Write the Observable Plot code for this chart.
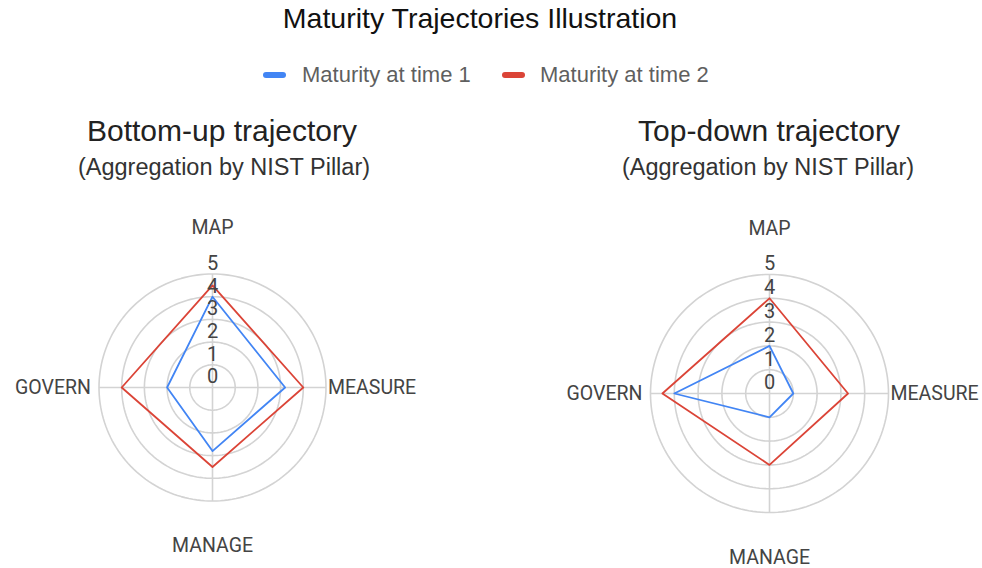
<!DOCTYPE html>
<html>
<head>
<meta charset="utf-8">
<script src="https://cdn.jsdelivr.net/npm/d3@7"></script>
<script src="https://cdn.jsdelivr.net/npm/@observablehq/plot@0.6"></script>
<style>
  html, body { margin: 0; padding: 0; background: #fff; }
  #page { position: relative; width: 982px; height: 568px; overflow: hidden; font-family: "Liberation Sans", Arial, sans-serif; }
  .t { position: absolute; line-height: 1; white-space: nowrap; }
  .center { transform: translateX(-50%); }
  .sw { position: absolute; height: 6px; width: 23px; border-radius: 3px; }
</style>
</head>
<body>
<div id="page"></div>
<script>
// ---- data ----
const categories = ["MAP", "MEASURE", "MANAGE", "GOVERN"];
const seriesNames = ["Maturity at time 1", "Maturity at time 2"];
const seriesColors = ["#4285f4", "#db4437"];
const bottomUpTime1 = [4.0, 3.2, 2.8, 2.0];
const bottomUpTime2 = [4.5, 4.0, 3.5, 4.0];
const topDownTime1 = [2.0, 1.0, 1.0, 4.0];
const topDownTime2 = [4.0, 3.3, 3.0, 4.5];
const tickValues = [0, 1, 2, 3, 4, 5];
const maxValue = 5;
const chartTitle = "Maturity Trajectories Illustration";
const panelTitles = ["Bottom-up trajectory", "Top-down trajectory"];
const panelSubtitle = "(Aggregation by NIST Pillar)";

const page = document.getElementById("page");
function addText(txt, style, cls = "t center") {
  const d = document.createElement("div");
  d.className = cls;
  d.textContent = txt;
  Object.assign(d.style, style);
  page.appendChild(d);
  return d;
}

// title
addText(chartTitle, {left: "480px", top: "4px", fontSize: "28.5px", color: "#111"});

// legend
const legendPos = [{sw: 263, tx: 302}, {sw: 502, tx: 540}];
seriesNames.forEach((name, k) => {
  const s = document.createElement("div");
  s.className = "sw";
  Object.assign(s.style, {left: legendPos[k].sw + "px", top: "72px", background: seriesColors[k]});
  page.appendChild(s);
  addText(name, {left: legendPos[k].tx + "px", top: "64px", fontSize: "22px", color: "#5f5f5f"}, "t");
});

// panel titles
addText(panelTitles[0], {left: "222px", top: "116px", fontSize: "30px", color: "#222"});
addText(panelSubtitle, {left: "224px", top: "156px", fontSize: "23.5px", color: "#333"});
addText(panelTitles[1], {left: "769px", top: "116px", fontSize: "30px", color: "#222"});
addText(panelSubtitle, {left: "768px", top: "156px", fontSize: "23.5px", color: "#333"});

const n = categories.length;
function polar(i, v) {
  const a = i * 2 * Math.PI / n;
  return {x: v * Math.sin(a), y: v * Math.cos(a)};
}

function radar({t1, t2, unit, cx, cy, width, height}) {
  const rows = [];
  [t1, t2].forEach((vals, s) => {
    vals.forEach((v, i) => rows.push({series: seriesNames[s], category: categories[i], ...polar(i, v)}));
  });
  const rings = [];
  tickValues.filter(v => v > 0).forEach(v => {
    for (let k = 0; k <= 180; k++) {
      const a = k / 180 * 2 * Math.PI;
      rings.push({ring: v, x: v * Math.sin(a), y: v * Math.cos(a)});
    }
  });
  const spokes = categories.map((c, i) => {
    const p = polar(i, maxValue);
    return {x1: 0, y1: 0, x2: p.x, y2: p.y};
  });
  const labels = categories.map((c, i) => ({label: c, i, ...polar(i, maxValue)}));
  const ticks = tickValues.map(v => ({v, x: 0, y: v}));
  return Plot.plot({
    width, height,
    marginTop: 0, marginRight: 0, marginBottom: 0, marginLeft: 0,
    style: {fontFamily: "Roboto, sans-serif", fontSize: "19.5px", overflow: "visible", background: "transparent"},
    x: {domain: [-cx / unit, (width - cx) / unit], axis: null},
    y: {domain: [-(height - cy) / unit, cy / unit], axis: null},
    color: {domain: seriesNames, range: seriesColors},
    marks: [
      Plot.line(rings, {x: "x", y: "y", z: "ring", stroke: "#d3d3d3", strokeWidth: 1.6}),
      Plot.link(spokes, {x1: "x1", y1: "y1", x2: "x2", y2: "y2", stroke: "#d3d3d3", strokeWidth: 1.6}),
      Plot.line(rows, {x: "x", y: "y", z: "series", stroke: "series", curve: "linear-closed", strokeWidth: 1.8}),
      Plot.text(ticks, {x: "x", y: "y", text: d => String(d.v), dy: -10.5, fill: "#444", fontSize: 20}),
      Plot.text(labels.filter(d => d.i === 0), {x: "x", y: "y", text: "label", dy: -46, fill: "#444", fontSize: 19.5}),
      Plot.text(labels.filter(d => d.i === 2), {x: "x", y: "y", text: "label", dy: 45, fill: "#444", fontSize: 19.5}),
      Plot.text(labels.filter(d => d.i === 1), {x: "x", y: "y", text: "label", dx: 2, textAnchor: "start", fill: "#444", fontSize: 19.5}),
      Plot.text(labels.filter(d => d.i === 3), {x: "x", y: "y", text: "label", dx: -8, textAnchor: "end", fill: "#444", fontSize: 19.5})
    ]
  });
}

const left = radar({t1: bottomUpTime1, t2: bottomUpTime2, unit: 22.7, cx: 212, cy: 197, width: 491, height: 378});
left.style.position = "absolute";
left.style.left = "0px";
left.style.top = "190px";
page.appendChild(left);

const right = radar({t1: topDownTime1, t2: topDownTime2, unit: 23.8, cx: 278, cy: 203, width: 491, height: 378});
right.style.position = "absolute";
right.style.left = "491px";
right.style.top = "190px";
page.appendChild(right);
</script>
</body>
</html>
